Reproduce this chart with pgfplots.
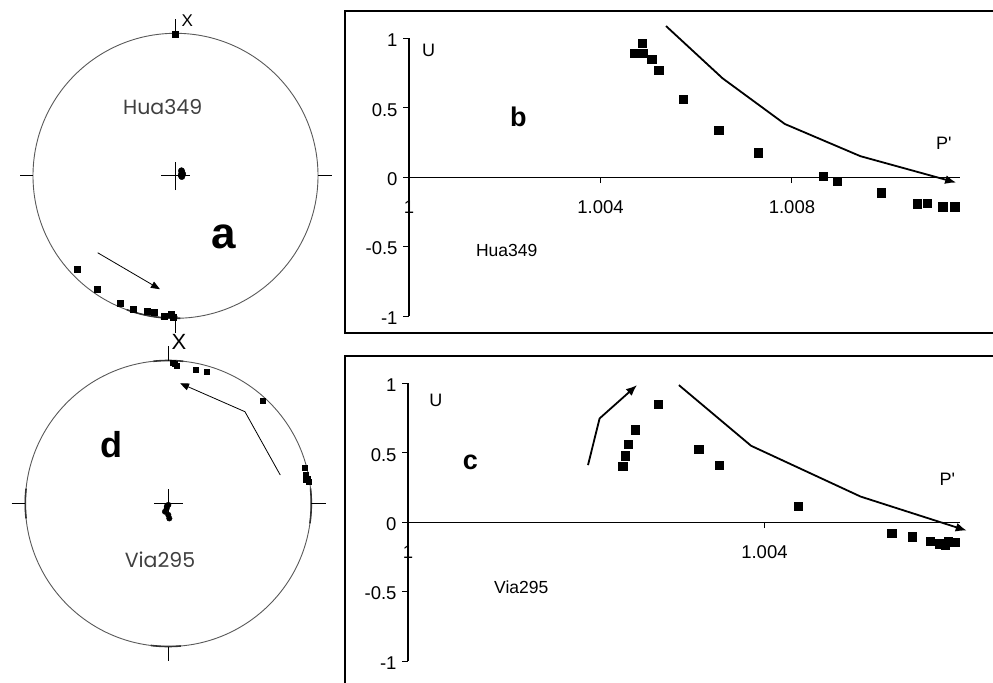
\documentclass[border=0pt]{standalone}
\usepackage{pgfplots}
\pgfplotsset{compat=1.18}
\usetikzlibrary{arrows.meta}
\usepackage{fontspec}
\setmainfont{Liberation Sans}
\newfontfamily\stereofont{Poppins}
\newcommand\fs[1]{\fontsize{#1bp}{#1bp}\selectfont}

\pgfplotsset{
  upplot/.style={
    scale only axis, clip=false,
    axis x line=middle, axis y line=left,
    axis line style={-, line width=1.2bp},
    xmin=1, ymin=-1, ymax=1,
    ytick={-1,-0.5,0,0.5,1}, yticklabels={-1,-0.5,0,0.5,1},
    hide obscured x ticks=false, hide obscured y ticks=false,
    tick style={black, line width=1bp},
    major tick length=6bp,
    xtick align=outside, ytick align=outside,
    tick label style={font=\fs{18.5}},
    xticklabel style={anchor=center, yshift=-24bp},
    yticklabel style={anchor=east, xshift=-2bp, yshift=-2bp},
    height=277.7bp,
  },
  stereo/.style={
    scale only axis, hide axis, clip=false,
    xmin=-1, xmax=1, ymin=-1, ymax=1,
  },
  pts/.style={only marks, mark=square*, mark size=4.2bp, black},
  trend/.style={no marks, black, line width=1.8bp, -{Latex[length=11bp,width=9bp]}},
}

\begin{document}
\begin{tikzpicture}
\path[use as bounding box] (0,0) rectangle (993bp,-683bp);

% panel frames
\draw[line width=1.2bp] (1000bp,-11bp) -- (345bp,-11bp) -- (345bp,-333bp) -- (1000bp,-333bp);
\draw[line width=1.2bp] (1000bp,-356bp) -- (345bp,-356bp) -- (345bp,-690bp);

% b: Hua349
\begin{axis}[upplot, at={(409bp,-316bp)}, anchor=south west, width=550.5bp,
  xmax=1.0115, xtick={1,1.004,1.008}, xticklabels={1,1.004,1.008}]
\addplot[pts] coordinates {
  (1.00471,0.892) (1.00487,0.964) (1.00489,0.892) (1.00507,0.849) (1.00522,0.772)
  (1.00573,0.561) (1.00647,0.340) (1.00729,0.177) (1.00865,0.009) (1.00894,-0.027)
  (1.00987,-0.111) (1.01062,-0.192) (1.01083,-0.187) (1.01115,-0.212) (1.01140,-0.212)};
\addplot[trend] coordinates {
  (1.00537,1.088) (1.00655,0.712) (1.00785,0.383) (1.00943,0.151) (1.01143,-0.039)};
\node[font=\fs{18}] at (axis cs:1.00041,0.916) {U};
\node[font=\fs{18}] at (axis cs:1.011175,0.245) {P\textquotesingle};
\node[font=\fs{27}\bfseries] at (axis cs:1.002283,0.436) {b};
\node[font=\fs{17.5}] at (axis cs:1.002041,-0.528) {Hua349};
\end{axis}

% c: Via295
\begin{axis}[upplot, at={(408bp,-661bp)}, anchor=south west, width=551.6bp,
  xmax=1.00619, xtick={1,1.004}, xticklabels={1,1.004}]
\addplot[pts] coordinates {
  (1.00241,0.401) (1.00244,0.478) (1.00247,0.562) (1.00255,0.665) (1.00281,0.850)
  (1.00326,0.526) (1.00349,0.411) (1.00438,0.117) (1.00543,-0.078) (1.00566,-0.106)
  (1.00586,-0.137) (1.00596,-0.155) (1.00603,-0.166) (1.00606,-0.140) (1.00614,-0.144)};
\addplot[trend] coordinates {
  (1.00304,0.987) (1.00385,0.550) (1.00508,0.184) (1.00627,-0.061)};
\addplot[trend] coordinates {
  (1.00202,0.411) (1.00215,0.747) (1.00257,0.987)};
\node[font=\fs{18}] at (axis cs:1.000312,0.874) {U};
\node[font=\fs{18}] at (axis cs:1.006053,0.310) {P\textquotesingle};
\node[font=\fs{27}\bfseries] at (axis cs:1.000700,0.430) {c};
\node[font=\fs{17.5}] at (axis cs:1.001271,-0.470) {Via295};
\end{axis}

% a: stereonet Hua349
\begin{axis}[stereo, at={(175.5bp,-175.8bp)}, anchor=center, width=285bp, height=285bp]
\draw[black!65, line width=0.9bp] (axis cs:0,0) circle[radius=142.5bp];
\draw[black!80, line width=1.6bp] (axis cs:0,0) ++(250:142.5bp) arc[start angle=250, end angle=272, radius=142.5bp];
\draw[line width=1.2bp] (axis cs:-1.09,0) -- (axis cs:-1,0) (axis cs:1,0) -- (axis cs:1.1,0)
  (axis cs:0,1) -- (axis cs:0,1.1) (axis cs:0,-1) -- (axis cs:0,-1.1)
  (axis cs:-0.1,0) -- (axis cs:0.1,0) (axis cs:0,-0.1) -- (axis cs:0,0.1);
\addplot[only marks, mark=square*, mark size=3bp, black] coordinates {
  (-0.693,-0.656) (-0.549,-0.794) (-0.389,-0.895) (-0.300,-0.935) (-0.198,-0.949)
  (-0.151,-0.954) (-0.081,-0.984) (-0.032,-0.970) (-0.015,-0.993) (-0.004,0.993)};
\addplot[only marks, mark=*, mark size=3.2bp, black] coordinates {
  (0.042,0.035) (0.046,0.02) (0.040,0.005) (0.050,0.012) (0.044,-0.005) (-0.010,-0.990)};
\addplot[no marks, black, line width=0.8bp, -{Triangle[length=9bp,width=7bp]}] coordinates {
  (-0.546,-0.540) (-0.109,-0.796)};
\node[font=\fs{17}] at (axis cs:0.083,1.088) {X};
\node[font=\stereofont\fs{20.5}, text=black!75] at (axis cs:-0.090,0.484) {Hua349};
\node[font=\fs{44}\bfseries] at (axis cs:0.335,-0.432) {a};
\end{axis}

% d: stereonet Via295
\begin{axis}[stereo, at={(168.3bp,-503.5bp)}, anchor=center, width=286bp, height=286bp]
\draw[black!65, line width=0.9bp] (axis cs:0,0) circle[radius=143bp];
\draw[black!80, line width=1.6bp] (axis cs:0,0) ++(174:143bp) arc[start angle=174, end angle=186, radius=143bp];
\draw[black!80, line width=1.6bp] (axis cs:0,0) ++(-8:143bp) arc[start angle=-8, end angle=6, radius=143bp];
\draw[black!80, line width=1.6bp] (axis cs:0,0) ++(84:143bp) arc[start angle=84, end angle=96, radius=143bp];
\draw[black!80, line width=1.6bp] (axis cs:0,0) ++(263:143bp) arc[start angle=263, end angle=275, radius=143bp];
\draw[line width=1.2bp] (axis cs:-1.095,0) -- (axis cs:-1,0) (axis cs:1,0) -- (axis cs:1.1,0)
  (axis cs:0,1) -- (axis cs:0,1.1) (axis cs:0,-1) -- (axis cs:0,-1.1)
  (axis cs:-0.1,0) -- (axis cs:0.1,0) (axis cs:0,-0.1) -- (axis cs:0,0.1);
\addplot[only marks, mark=square*, mark size=2.6bp, black] coordinates {
  (0.047,0.976) (0.033,0.983) (0.061,0.962) (0.194,0.938) (0.269,0.922) (0.660,0.719)
  (0.956,0.250) (0.963,0.199) (0.972,0.176) (0.979,0.152) (0.963,0.164)};
\addplot[only marks, mark=*, mark size=2.8bp, black] coordinates {
  (0,-0.01) (-0.011,-0.034) (-0.023,-0.057) (0,-0.08) (0.007,-0.104) (-0.01,-0.02)};
\addplot[no marks, black, line width=0.8bp, -{Triangle[length=9bp,width=7bp]}] coordinates {
  (0.783,0.199) (0.536,0.642) (0.082,0.841)};
\node[font=\fs{22}] at (axis cs:0.075,1.133) {X};
\node[font=\stereofont\fs{20.5}, text=black!75] at (axis cs:-0.058,-0.395) {Via295};
\node[font=\fs{36}\bfseries] at (axis cs:-0.396,0.409) {d};
\end{axis}
\end{tikzpicture}
\end{document}
